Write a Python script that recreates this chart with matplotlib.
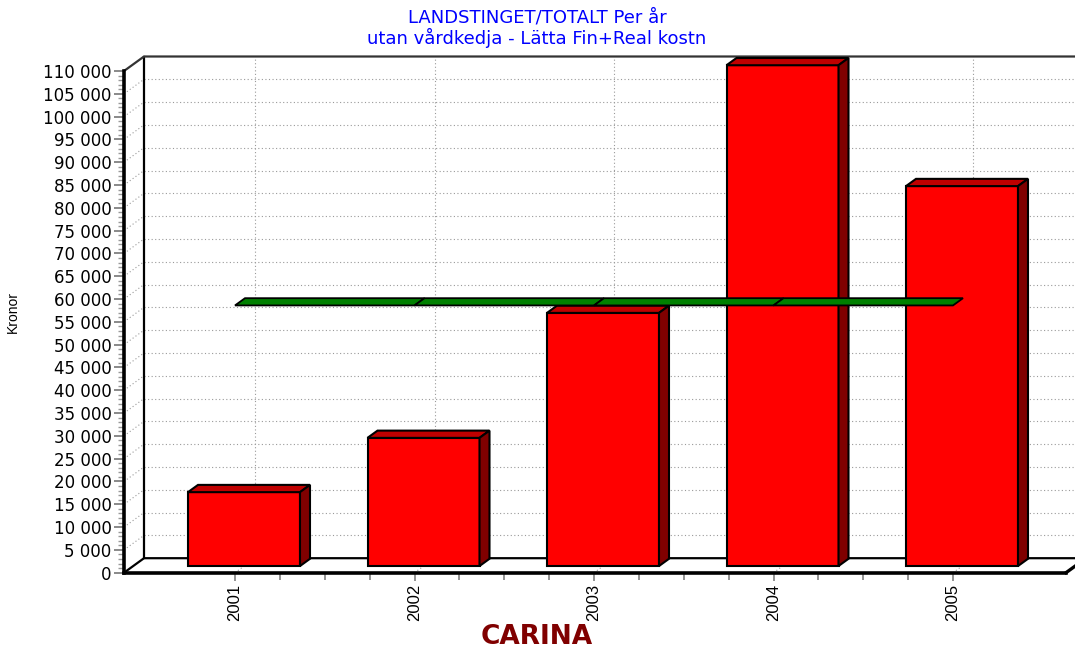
import numpy as np
import matplotlib.pyplot as plt
from matplotlib.patches import Polygon
from matplotlib.ticker import MultipleLocator, FixedLocator, FuncFormatter

years = ['2001', '2002', '2003', '2004', '2005']
kostnad = [16200, 28100, 55500, 109800, 83300]
medel = 58600  # snitt 2001-2005

W, H = 1075, 648
fig = plt.figure(figsize=(W / 100, H / 100), dpi=100)

# front plane of the 3D box, in pixels
left_px, right_px = 124, 1066
bot_px, top_px = 572.7, 71
cat_px, first_px = 179.5, 235

ax = fig.add_axes([left_px / W, 1 - bot_px / H,
                   (right_px - left_px) / W, (bot_px - top_px) / H])
x0 = (left_px - first_px) / cat_px
x1 = (right_px - first_px) / cat_px
ymax = 110000
ax.set_xlim(x0, x1)
ax.set_ylim(0, ymax)

# depth of the box in data units
DX = 20 / cat_px
DY = 14.5 / (bot_px - top_px) * ymax

# grid on the back wall, left wall and floor
grid = dict(color='#9a9a9a', lw=0.8, ls=(0, (1, 2.2)), clip_on=False, zorder=1)
for v in range(5000, ymax, 5000):
    ax.plot([x0 + DX, x1 + 2 * DX], [v + DY, v + DY], **grid)
    ax.plot([x0, x0 + DX], [v, v + DY], **grid)
for i in range(len(years)):
    ax.plot([i + DX, i + DX], [DY, ymax + DY], **grid)
    ax.plot([i, i + DX], [0, DY], **grid)

# box edges
edge = dict(color='black', lw=1.6, clip_on=False, zorder=2)
ax.plot([x0 + DX, x0 + DX], [DY, ymax + DY], **edge)
ax.plot([x0, x0 + DX, x1 + 2 * DX], [ymax, ymax + DY, ymax + DY], color='#333333', lw=1.6,
        clip_on=False, zorder=2)
ax.plot([x0, x0 + DX, x1 + 2 * DX], [0, DY, DY], **edge)
ax.plot([x1, x1 + DX], [0, DY], color='black', lw=2.4, clip_on=False, zorder=5)

# bars
x = np.arange(len(years))
w = 112 / cat_px
fx, fy = 0.45 * DX, 0.46 * DY
bx, by = 0.5 * DX, 0.5 * DY
ax.bar(x + fx, kostnad, width=w, bottom=fy, color='#ff0000', edgecolor='black',
       linewidth=1.5, zorder=3, clip_on=False)
for i, v in enumerate(kostnad):
    xl, xr = i + fx - w / 2, i + fx + w / 2
    yt = v + fy
    ax.add_patch(Polygon([(xl, yt), (xr, yt), (xr + bx, yt + by), (xl + bx, yt + by)],
                         closed=True, fc='#c00000', ec='black', lw=1.5, zorder=3, clip_on=False))
    ax.add_patch(Polygon([(xr, fy), (xr + bx, fy + by), (xr + bx, yt + by), (xr, yt)],
                         closed=True, fc='#800000', ec='black', lw=1.5, zorder=3, clip_on=False))

# average ribbon
for i in range(len(years) - 1):
    pts = [(i, medel), (i + 1, medel), (i + 1 + bx, medel + by), (i + bx, medel + by)]
    ax.add_patch(Polygon(pts, closed=True, fc='#008000', ec='black', lw=1.3, zorder=6,
                         clip_on=False))

# axes
for s in ['top', 'right']:
    ax.spines[s].set_visible(False)
ax.spines['left'].set_linewidth(2.6)
ax.spines['bottom'].set_linewidth(2.6)
ax.patch.set_visible(False)

ax.yaxis.set_major_locator(MultipleLocator(5000))
ax.yaxis.set_minor_locator(MultipleLocator(1000))
ax.yaxis.set_major_formatter(FuncFormatter(lambda v, p: f"{int(v):,}".replace(',', ' ')))
ax.tick_params(axis='y', which='major', length=7, width=1.3, color='#808080', pad=2,
               labelsize=12)
ax.tick_params(axis='y', which='minor', length=4, width=1.0, color='#999999')
for t in ax.get_yticklabels():
    t.set_fontfamily('DejaVu Sans')

ax.set_xticks(x)
ax.set_xticklabels(years, rotation=90, fontsize=12, fontfamily='Liberation Sans')
ax.xaxis.set_minor_locator(FixedLocator([i + q for i in range(4) for q in (0.25, 0.5, 0.75)]))
ax.tick_params(axis='x', which='major', length=6, width=1.2, color='#808080', pad=2)
ax.tick_params(axis='x', which='minor', length=5, width=1.2, color='#808080')

ax.set_ylabel('Kronor', fontsize=10, fontfamily='Liberation Sans')
ax.yaxis.set_label_coords((20 - left_px) / (right_px - left_px), (bot_px - 312) / (bot_px - top_px))
ax.set_xlabel('CARINA', fontsize=19, fontweight='bold', color='#800000',
              fontfamily='DejaVu Sans', va='center')
ax.xaxis.set_label_coords((537 - left_px) / (right_px - left_px), (bot_px - 637) / (bot_px - top_px))

fig.text(537 / W, 1 - 9 / H, 'LANDSTINGET/TOTALT Per år\nutan vårdkedja - Lätta Fin+Real kostn',
         ha='center', va='top', color='#0000ff', fontsize=13, fontfamily='DejaVu Sans',
         linespacing=1.05)

fig.savefig('out.png', dpi=100)
